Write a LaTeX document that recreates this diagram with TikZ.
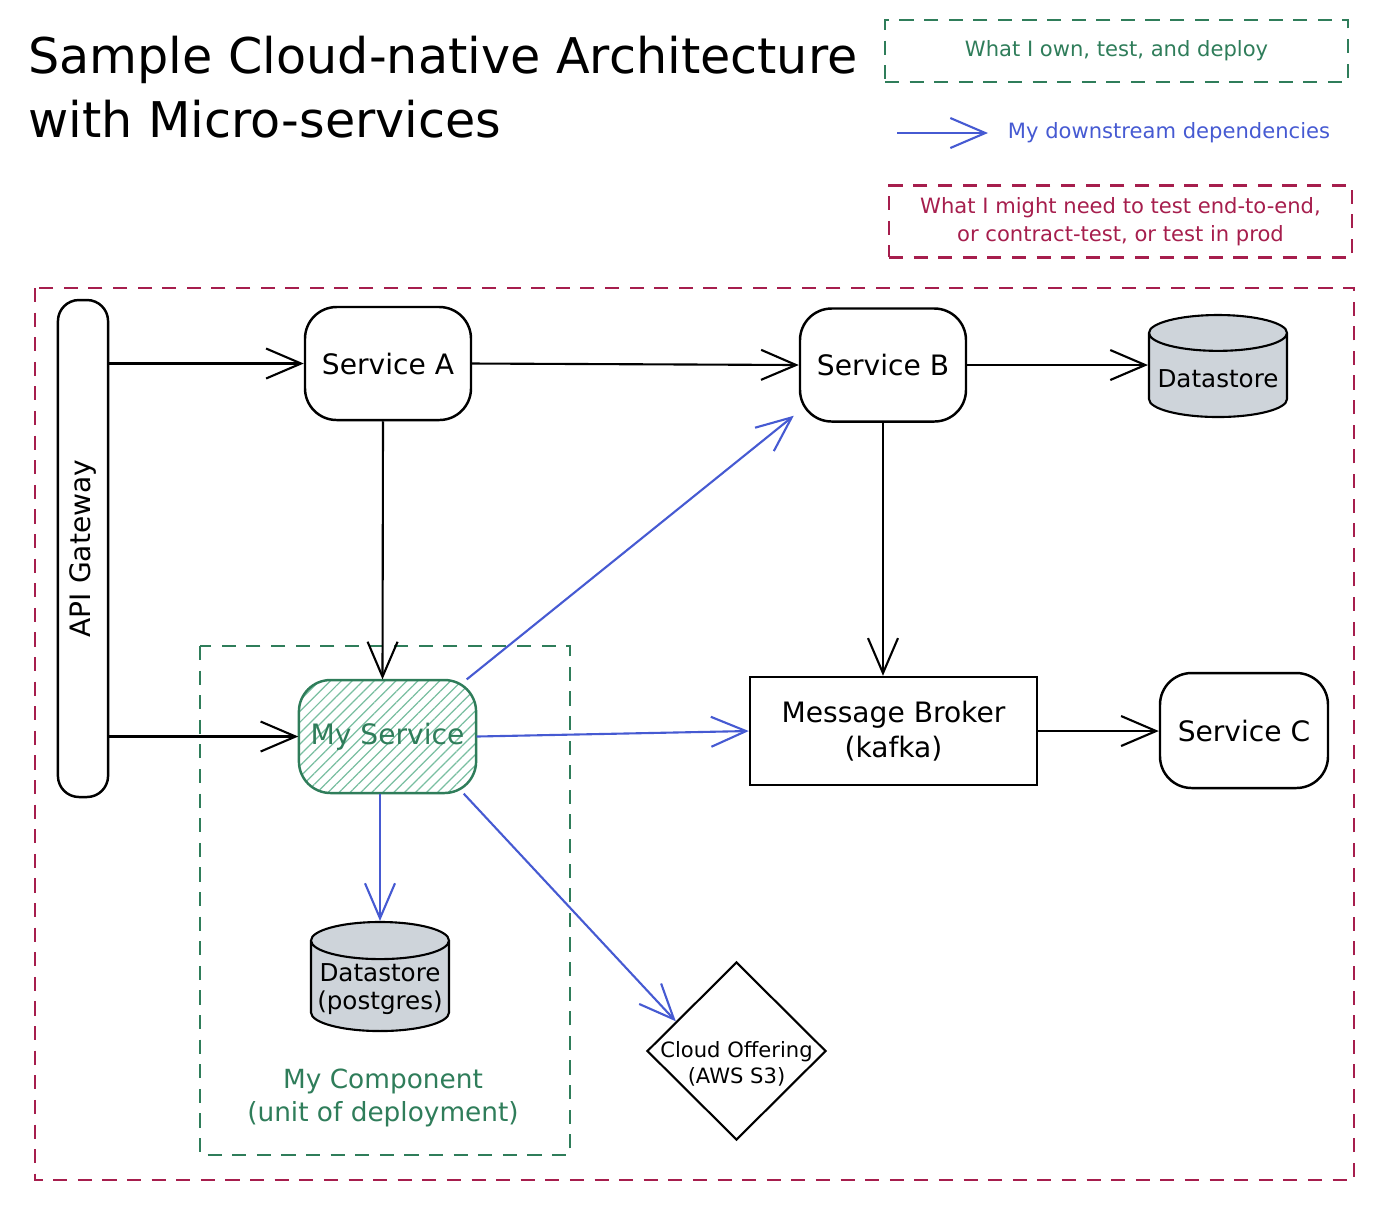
\documentclass[tikz,border=0pt]{standalone}
\usepackage{fontspec}
\setmainfont{DejaVu Sans}
\usepackage{tikz}
\usetikzlibrary{calc,positioning,shapes.geometric,patterns.meta}
\usetikzlibrary{arrows.meta}
\definecolor{owngreen}{RGB}{47,125,90}
\definecolor{hatchgreen}{RGB}{120,190,160}
\definecolor{depblue}{RGB}{70,90,210}
\definecolor{e2epink}{RGB}{166,30,77}
\definecolor{storegray}{RGB}{206,212,218}
\tikzset{
    svc box/.style={
        draw,line width=0.7pt,rounded corners=9pt,
        fill=white,
        minimum width=1.66cm,minimum height=1.13cm,
        font=\fontsize{8}{10}\selectfont
    },
    store/.style={
        draw,line width=0.6pt,cylinder,shape border rotate=90,aspect=0.28,
        fill=storegray,inner sep=1pt,anchor=shape center,
        minimum width=1.38cm,minimum height=1.02cm,
        font=\fontsize{7}{8}\selectfont,align=center
    },
    own line/.style={owngreen,line width=0.6pt,dash pattern=on 4pt off 3pt},
    e2e line/.style={e2epink,line width=0.6pt,dash pattern=on 4pt off 3pt},
    dep/.style={depblue,line width=0.6pt,->},
    call/.style={black,line width=0.6pt,->},
    >={Straight Barb[length=3.5mm,width=3mm]}
}
\begin{document}
\begin{tikzpicture}
\useasboundingbox (0,0) rectangle (13.88,-12.08);
\node[anchor=north west,align=left,font=\fontsize{14}{18}\selectfont] (title) at (0.16,-0.24) {Sample Cloud-native Architecture\\with Micro-services};
% legend
\node[draw,own line,minimum width=4.63cm,minimum height=0.62cm,text=owngreen,font=\fontsize{6}{7}\selectfont] (own) at (11.165,-0.51) {What I own, test, and deploy};
\coordinate (legA) at (8.97,-1.33);
\coordinate (legB) at (9.88,-1.33);
\draw[dep] (legA) -- (legB);
\node[text=depblue,font=\fontsize{6}{7}\selectfont] (deps) at (11.69,-1.33) {My downstream dependencies};
\node[draw,e2e line,minimum width=4.63cm,minimum height=0.71cm,text=e2epink,align=center,font=\fontsize{6}{8}\selectfont] (e2e) at (11.205,-2.215) {What I might need to test end-to-end,\\or contract-test, or test in prod};
% boundaries
\draw[e2e line] (0.35,-2.88) rectangle (13.54,-11.8);
\draw[own line] (2.0,-6.46) rectangle (5.7,-11.55);
\node[text=owngreen,align=center,font=\fontsize{7.5}{9.5}\selectfont] (comp) at (3.83,-10.98) {My Component\\(unit of deployment)};
% services
\node[svc box,rotate=90,minimum width=4.97cm,minimum height=0.5cm,rounded corners=6pt] (gw) at (0.83,-5.485) {API Gateway};
\node[svc box] (sa) at (3.88,-3.635) {Service A};
\node[svc box] (sb) at (8.83,-3.65) {Service B};
\node[store] (ds) at (12.18,-3.66) {Datastore};
\node[svc box,draw=owngreen,text=owngreen,pattern={Lines[angle=45,distance=2.2pt,line width=0.35pt]},pattern color=hatchgreen,minimum width=1.67cm] (my) at (3.875,-7.365) {My Service};
\node[svc box,rounded corners=0pt,minimum width=2.87cm,minimum height=1.08cm,align=center] (mb) at (8.935,-7.31) {Message Broker\\(kafka)};
\node[svc box,minimum width=1.68cm,minimum height=1.15cm] (sc) at (12.44,-7.305) {Service C};
\node[store,minimum height=1.03cm] (pg) at (3.80,-9.765) {Datastore\\(postgres)};
\node[draw,diamond,line width=0.6pt,minimum width=1.79cm,minimum height=1.78cm,inner sep=0pt] (s3) at (7.365,-10.51) {};
\node[align=center,font=\fontsize{6}{7.5}\selectfont] (s3txt) at ([yshift=-0.13cm]s3) {Cloud Offering\\(AWS S3)};
% calls
\draw[call] (gw.south |- sa.west) -- (sa.west);
\draw[call] (gw.south |- my.west) -- (my.west);
\draw[call] (sa.east) -- (sb.west);
\draw[call] (sb.east) -- (sb.east -| ds.west);
\draw[call] ([xshift=-0.05cm]sa.south) -- ([xshift=-0.05cm]my.north);
\draw[call] (sb.south) -- (sb.south |- mb.north);
\draw[call] (mb.east) -- (mb.east -| sc.west);
% dependencies
\draw[dep] ([xshift=-0.1cm]my.north east) -- ([xshift=-0.05cm,yshift=0.07cm]sb.south west);
\draw[dep] (my.east) -- (mb.west);
\draw[dep] (my.south -| pg.north) -- (pg.north);
\draw[dep] ([xshift=-0.13cm]my.south east) -- ($(s3.west)!0.33!(s3.north)$);
\end{tikzpicture}
\end{document}
